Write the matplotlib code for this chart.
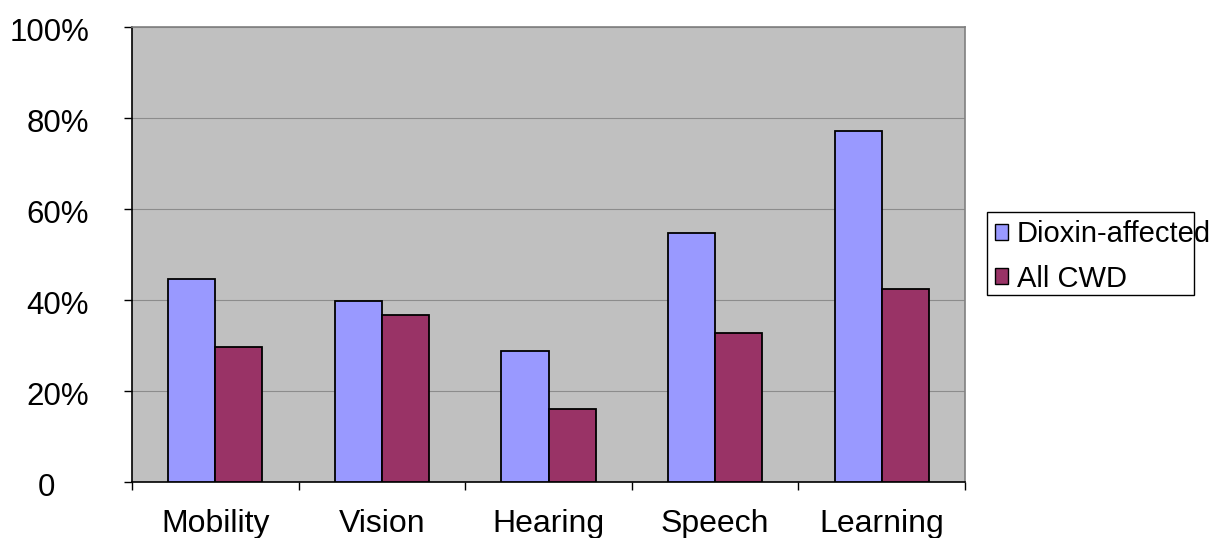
import numpy as np
import matplotlib.pyplot as plt
from matplotlib.patches import Rectangle
from matplotlib.transforms import ScaledTranslation

plt.rcParams['font.family'] = ['Liberation Sans', 'DejaVu Sans']

categories = ['Mobility', 'Vision', 'Hearing', 'Speech', 'Learning']
dioxin = [44.5, 39.6, 28.6, 54.6, 77.0]
all_cwd = [29.5, 36.5, 15.9, 32.7, 42.3]
yticks = [0, 20, 40, 60, 80, 100]
ytick_labels = ['0', '20%', '40%', '60%', '80%', '100%']

fig = plt.figure(figsize=(12.16, 5.38), dpi=100)
ax = fig.add_axes([0.1086, 0.105, 0.685, 0.8454])
ax.set_facecolor('#C0C0C0')

x = np.arange(len(categories))
w = 0.283
ax.bar(x - w / 2, dioxin, w, color='#9999FF', edgecolor='black', linewidth=1.3,
       label='Dioxin-affected', zorder=3)
ax.bar(x + w / 2, all_cwd, w, color='#993366', edgecolor='black', linewidth=1.3,
       label='All CWD', zorder=3)

ax.set_xlim(-0.5, len(categories) - 0.5)
ax.set_ylim(0, 100)
ax.set_yticks(yticks)
ax.set_yticklabels(ytick_labels)
ax.yaxis.grid(True, color='#8C8C8C', linewidth=0.8, zorder=0)
ax.set_axisbelow(True)

# category ticks sit on the group boundaries
ax.set_xticks(np.arange(len(categories) + 1) - 0.5)
ax.set_xticklabels([])
ax.set_xticks(x, minor=True)
ax.set_xticklabels(categories, minor=True)
ax.tick_params(axis='x', which='minor', length=0, pad=20, labelsize=23)
ax.tick_params(axis='x', which='major', direction='out', length=6, width=1)
ax.tick_params(axis='y', direction='out', length=6, width=1, pad=25, labelsize=22.5)

for s in ['left', 'bottom']:
    ax.spines[s].set_color('black')
    ax.spines[s].set_linewidth(1.2)
for s in ['top', 'right']:
    ax.spines[s].set_color('#808080')
    ax.spines[s].set_linewidth(1.2)

# labels sit a little below their ticks; "0" sits further left
for i, lab in enumerate(ax.get_yticklabels()):
    dx = -0.34 if i == 0 else 0
    lab.set_transform(lab.get_transform() + ScaledTranslation(dx, -0.03, fig.dpi_scale_trans))

# legend text runs past its box in the original, so draw the box separately
leg = ax.legend(loc='center left', bbox_to_anchor=(0.8183, 0.5232), bbox_transform=fig.transFigure,
                fontsize=21, frameon=False,
                handlelength=0.45, handleheight=0.45, handletextpad=0.3,
                borderpad=0, labelspacing=0.55, borderaxespad=0)
for h in leg.legend_handles:
    h.set_linewidth(1.0)
fig.patches.append(Rectangle((0.8117, 0.4517), 0.1702, 0.1542, transform=fig.transFigure,
                             fill=False, edgecolor='black', linewidth=1.0))

fig.savefig('out.png', dpi=100)
